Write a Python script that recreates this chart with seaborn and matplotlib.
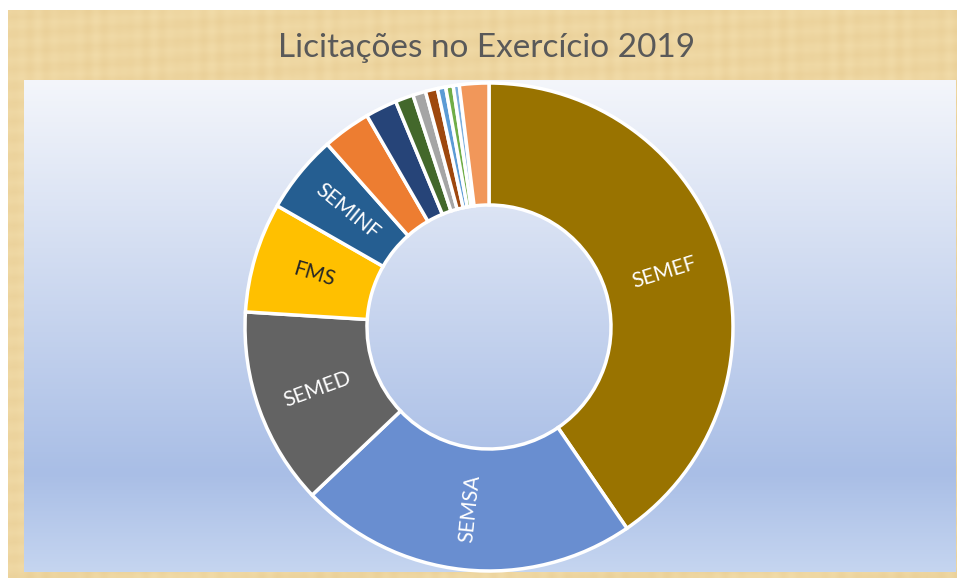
import numpy as np
import matplotlib
matplotlib.use("Agg")
import matplotlib.pyplot as plt
import seaborn as sns
from matplotlib.colors import to_rgb

# Slice data (share of licitações)
labels = ["SEMEF", "SEMSA", "SEMED", "FMS", "SEMINF",
          "", "", "", "", "", "", "", "", ""]
values = [40.5, 22.5, 13.1, 7.3, 5.2,
          3.2, 2.1, 1.2, 0.85, 0.8, 0.55, 0.5, 0.4, 1.95]
colors = ["#997300", "#698ED0", "#636363", "#FFC000", "#255E91",
          "#ED7D31", "#264478", "#43682B", "#A5A5A5", "#9E480E",
          "#5B9BD5", "#70AD47", "#7CAFDD", "#F1975A"]
label_colors = ["white", "white", "white", "#262626", "white"]

sns.set_style("white")
plt.rcParams["font.family"] = ["Lato", "DejaVu Sans"]

W, H = 957, 580
fig = plt.figure(figsize=(W / 100, H / 100), dpi=100)
fig.patch.set_facecolor("white")

# parchment frame
frame_ax = fig.add_axes([8 / W, 2 / H, 949 / W, 568 / H])
yy, xx = np.mgrid[0:120, 0:400]
streak = 0.5 + 0.25 * np.sin(xx * 0.9) * np.sin(xx * 0.13) + 0.25 * np.sin(yy * 1.7 + xx * 0.05)
base = np.array(to_rgb("#f1dba8"))
dark = np.array(to_rgb("#e2c386"))
tex = base[None, None, :] * (1 - 0.45 * streak[..., None]) + dark[None, None, :] * 0.45 * streak[..., None]
frame_ax.imshow(tex, aspect="auto", interpolation="bilinear")
frame_ax.axis("off")

# gradient plot area
grad_ax = fig.add_axes([24 / W, 8 / H, 931 / W, 492 / H])
stops = [0.0, 0.8, 1.0]
cols = [to_rgb("#f4f6fb"), to_rgb("#a9bee6"), to_rgb("#c5d5f0")]
t = np.linspace(0, 1, 300)
grad = np.stack([np.interp(t, stops, [c[i] for c in cols]) for i in range(3)], axis=-1)
grad_ax.imshow(grad[:, None, :], aspect="auto", extent=[0, 1, 1, 0])
grad_ax.axis("off")

# donut
cx, cy, r = 489, 327, 244
pad = 252
ax = fig.add_axes([(cx - pad) / W, 1 - (cy + pad) / H, 2 * pad / W, 2 * pad / H])
ax.set_facecolor("none")
wedges, _ = ax.pie(values, colors=sns.color_palette(colors), startangle=90, counterclock=False,
                   radius=1, wedgeprops=dict(width=0.5, edgecolor="white", linewidth=2.5))
lim = pad / r
ax.set_xlim(-lim, lim)
ax.set_ylim(-lim, lim)
ax.set_aspect("equal")
ax.axis("off")

for w, lab, lc in zip(wedges, labels, label_colors):
    ang = (w.theta1 + w.theta2) / 2
    x = 0.75 * np.cos(np.radians(ang))
    y = 0.75 * np.sin(np.radians(ang))
    rot = ang
    if rot > 90:
        rot -= 180
    if rot < -90:
        rot += 180
    ax.text(x, y, lab, ha="center", va="center", rotation=rot, rotation_mode="anchor",
            color=lc, fontsize=15)

fig.text(487 / W, 1 - 48 / H, "Licitações no Exercício 2019", ha="center", va="center",
         fontsize=24, color="#595959")

fig.savefig("out.png", dpi=100)
